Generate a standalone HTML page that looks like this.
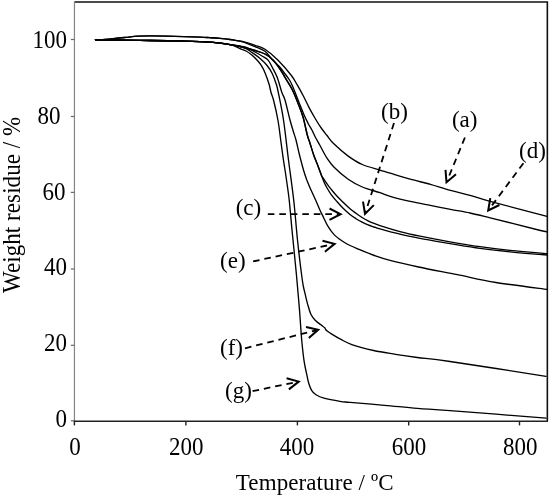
<!DOCTYPE html>
<html><head><meta charset="utf-8"><title>TGA curves</title><style>
html,body{margin:0;padding:0;background:#fff;}
svg{display:block;}
.t{font-family:"Liberation Serif","Times New Roman",serif;font-size:23px;fill:#000;}
.crv{fill:none;stroke:#000;stroke-width:1.35;stroke-linejoin:round;stroke-linecap:round;}
.dash{stroke:#000;stroke-width:1.8;stroke-dasharray:6.6 4.9;fill:none;}
.head{fill:none;stroke:#000;stroke-width:2;stroke-linejoin:miter;stroke-linecap:butt;}
</style></head>
<body>
<svg width="550" height="497" viewBox="0 0 550 497">
<rect width="550" height="497" fill="#fff"/>
<path d="M74.5,2 L547.35,2 L547.35,421" fill="none" stroke="#111" stroke-width="1.6"/>
<line x1="74.45" y1="1.5" x2="74.45" y2="421" stroke="#858585" stroke-width="1.2"/>
<line x1="73.8" y1="421.2" x2="548" y2="421.2" stroke="#222" stroke-width="1.6"/>
<line x1="70.8" y1="39.5" x2="74.4" y2="39.5" stroke="#6a6a6a" stroke-width="1.2"/>
<line x1="70.8" y1="116.5" x2="74.4" y2="116.5" stroke="#6a6a6a" stroke-width="1.2"/>
<line x1="70.8" y1="192.4" x2="74.4" y2="192.4" stroke="#6a6a6a" stroke-width="1.2"/>
<line x1="70.8" y1="269" x2="74.4" y2="269" stroke="#6a6a6a" stroke-width="1.2"/>
<line x1="70.8" y1="345.3" x2="74.4" y2="345.3" stroke="#6a6a6a" stroke-width="1.2"/>
<line x1="70.8" y1="420.8" x2="74.4" y2="420.8" stroke="#6a6a6a" stroke-width="1.2"/>
<line x1="74.4" y1="420.9" x2="74.4" y2="425.4" stroke="#222" stroke-width="1.4"/>
<line x1="185.9" y1="420.9" x2="185.9" y2="425.4" stroke="#222" stroke-width="1.4"/>
<line x1="297.4" y1="420.9" x2="297.4" y2="425.4" stroke="#222" stroke-width="1.4"/>
<line x1="408.7" y1="420.9" x2="408.7" y2="425.4" stroke="#222" stroke-width="1.4"/>
<line x1="519.5" y1="420.9" x2="519.5" y2="425.4" stroke="#222" stroke-width="1.4"/>
<path d="M95.5,39.8 C97.1,39.7 101.8,39.5 105.0,39.3 C108.2,39.1 111.5,38.8 115.0,38.5 C118.5,38.2 122.2,37.8 126.0,37.4 C129.8,37.0 134.0,36.5 138.0,36.2 C142.0,36.0 143.8,35.9 150.0,35.9 C156.2,35.9 166.7,36.1 175.0,36.3 C183.3,36.5 194.2,36.9 200.0,37.1 C205.8,37.3 206.7,37.5 210.0,37.7 C213.3,37.9 216.7,38.1 220.0,38.4 C223.3,38.7 227.0,39.1 230.0,39.5 C233.0,39.9 235.5,40.4 238.0,40.8 C240.5,41.2 242.2,41.4 245.0,42.1 C247.8,42.9 251.7,44.1 255.0,45.3 C258.3,46.5 261.2,46.8 265.0,49.3 C268.8,51.8 273.5,55.7 277.8,60.0 C282.1,64.3 287.8,70.9 291.0,75.0 C294.2,79.1 295.1,81.3 297.1,84.7 C299.1,88.1 301.1,91.7 303.1,95.5 C305.1,99.3 307.1,103.8 309.1,107.6 C311.1,111.4 313.2,115.1 315.2,118.5 C317.2,121.9 319.2,125.2 321.2,128.0 C323.2,130.8 324.9,132.8 327.0,135.5 C329.1,138.2 330.6,140.7 334.1,144.1 C337.6,147.5 343.5,152.7 348.2,156.1 C352.9,159.5 357.0,162.2 362.3,164.5 C367.6,166.8 375.4,168.7 380.0,170.1 C384.6,171.5 385.1,171.7 390.1,173.2 C395.1,174.7 403.5,177.3 410.2,179.2 C416.9,181.0 423.7,182.5 430.4,184.3 C437.1,186.2 443.9,188.5 450.5,190.3 C457.1,192.1 463.4,193.5 470.0,195.3 C476.6,197.2 477.4,197.9 490.2,201.4 C503.0,204.9 537.5,213.8 547.0,216.3" class="crv"/>
<path d="M95.5,39.8 C97.1,39.7 101.8,39.5 105.0,39.3 C108.2,39.1 111.5,38.8 115.0,38.5 C118.5,38.2 122.2,37.8 126.0,37.4 C129.8,37.0 134.0,36.5 138.0,36.2 C142.0,36.0 143.8,35.9 150.0,35.9 C156.2,35.9 166.7,36.1 175.0,36.3 C183.3,36.5 194.2,36.9 200.0,37.1 C205.8,37.3 206.7,37.5 210.0,37.7 C213.3,37.9 216.7,38.1 220.0,38.4 C223.3,38.7 227.0,39.1 230.0,39.5 C233.0,39.9 235.5,40.3 238.0,40.8 C240.5,41.3 242.2,41.6 245.0,42.6 C247.8,43.6 251.7,45.2 255.0,46.6 C258.3,48.0 262.1,49.1 265.0,51.3 C267.9,53.5 269.8,57.1 272.1,59.6 C274.5,62.1 277.1,64.1 279.1,66.3 C281.1,68.5 282.3,70.2 284.0,72.5 C285.7,74.8 288.1,77.7 289.5,80.0 C290.9,82.3 291.5,83.8 292.7,86.5 C293.9,89.2 295.4,93.1 296.5,96.0 C297.6,98.9 298.7,101.7 299.6,104.0 C300.5,106.3 301.2,107.8 302.1,110.0 C303.0,112.2 304.0,114.8 305.0,117.0 C306.0,119.2 307.1,121.3 308.2,123.5 C309.3,125.7 310.7,127.7 311.9,130.0 C313.1,132.3 314.1,134.9 315.5,137.5 C316.9,140.1 318.1,142.1 320.0,145.5 C321.9,148.9 324.6,154.6 327.0,158.2 C329.4,161.8 330.6,163.8 334.1,167.3 C337.6,170.8 343.5,176.0 348.2,179.3 C352.9,182.6 357.0,184.8 362.3,187.0 C367.6,189.2 375.4,191.1 380.0,192.7 C384.6,194.2 385.1,194.9 390.1,196.3 C395.1,197.8 403.5,199.9 410.2,201.4 C416.9,202.9 423.7,204.1 430.4,205.4 C437.1,206.7 443.9,208.1 450.5,209.4 C457.1,210.7 463.4,211.6 470.0,213.0 C476.6,214.4 478.8,215.0 490.2,217.8 C501.6,220.6 529.0,227.7 538.5,230.0 C548.0,232.3 545.6,231.5 547.0,231.8" class="crv"/>
<path d="M95.5,39.8 C99.6,39.8 110.9,40.0 120.0,40.1 C129.1,40.2 140.0,40.4 150.0,40.5 C160.0,40.6 170.0,40.7 180.0,41.0 C190.0,41.3 201.7,41.6 210.0,42.2 C218.3,42.8 225.0,43.9 230.0,44.6 C235.0,45.3 235.8,45.5 240.0,46.5 C244.2,47.5 250.8,49.2 255.0,50.5 C259.2,51.8 262.0,52.4 265.0,54.0 C268.0,55.6 270.5,57.5 273.0,60.0 C275.5,62.5 278.0,66.1 280.0,69.0 C282.0,71.9 283.0,74.0 285.0,77.4 C287.0,80.8 290.0,85.1 292.2,89.5 C294.4,93.9 296.5,99.4 298.3,104.0 C300.1,108.6 301.6,112.1 303.1,117.3 C304.6,122.5 306.2,130.9 307.3,135.0 C308.4,139.1 308.5,138.7 309.6,142.0 C310.7,145.3 312.3,151.0 313.7,155.0 C315.1,159.0 316.7,162.6 318.0,166.0 C319.3,169.4 320.6,173.4 321.5,175.5 C322.4,177.6 322.8,177.5 323.5,178.6 C324.2,179.7 324.8,180.6 326.0,182.3 C327.2,184.1 329.1,186.8 331.0,189.1 C332.9,191.4 335.1,194.1 337.1,196.3 C339.1,198.5 341.0,200.2 343.1,202.3 C345.2,204.4 347.9,206.9 350.0,208.7 C352.1,210.5 354.0,211.8 356.0,213.3 C358.0,214.8 360.1,216.2 362.1,217.5 C364.1,218.8 366.1,219.8 368.1,220.8 C370.1,221.8 372.1,222.6 374.1,223.4 C376.1,224.2 375.7,224.2 380.0,225.6 C384.3,227.0 393.3,229.8 400.0,231.6 C406.7,233.4 411.7,234.5 420.0,236.2 C428.3,237.9 440.0,240.1 450.0,241.8 C460.0,243.6 470.0,245.3 480.0,246.7 C490.0,248.1 498.8,249.2 510.0,250.4 C521.2,251.6 540.8,253.1 547.0,253.6" class="crv"/>
<path d="M95.5,39.8 C99.6,39.8 110.9,40.0 120.0,40.1 C129.1,40.2 140.0,40.4 150.0,40.5 C160.0,40.6 170.0,40.7 180.0,41.0 C190.0,41.3 201.7,41.6 210.0,42.2 C218.3,42.8 225.0,43.9 230.0,44.6 C235.0,45.3 235.8,45.5 240.0,46.5 C244.2,47.5 250.8,49.2 255.0,50.5 C259.2,51.8 262.0,52.4 265.0,54.0 C268.0,55.6 270.5,57.5 273.0,60.0 C275.5,62.5 278.0,66.1 280.0,69.0 C282.0,71.9 283.0,74.0 285.0,77.4 C287.0,80.8 290.0,85.1 292.2,89.5 C294.4,93.9 296.5,99.4 298.3,104.0 C300.1,108.6 301.6,112.1 303.1,117.3 C304.6,122.5 306.2,130.9 307.3,135.0 C308.4,139.1 308.5,138.7 309.6,142.0 C310.7,145.3 312.3,151.0 313.7,155.0 C315.1,159.0 316.7,162.6 318.0,166.0 C319.3,169.4 320.5,172.9 321.5,175.5 C322.5,178.1 323.0,179.6 323.8,181.5 C324.6,183.4 325.3,184.9 326.5,187.0 C327.7,189.1 329.2,191.9 331.0,194.3 C332.8,196.8 335.1,199.4 337.1,201.7 C339.1,204.0 341.0,206.1 343.1,208.2 C345.2,210.3 347.9,212.7 350.0,214.4 C352.1,216.2 354.0,217.4 356.0,218.7 C358.0,220.0 360.1,221.2 362.1,222.2 C364.1,223.2 366.1,224.1 368.1,224.9 C370.1,225.7 372.1,226.3 374.1,227.0 C376.1,227.7 375.7,227.7 380.0,228.9 C384.3,230.1 393.3,232.6 400.0,234.2 C406.7,235.8 411.7,236.8 420.0,238.4 C428.3,240.0 440.0,241.9 450.0,243.6 C460.0,245.2 470.0,246.9 480.0,248.3 C490.0,249.7 498.8,250.7 510.0,251.8 C521.2,252.9 540.8,254.5 547.0,255.0" class="crv"/>
<path d="M95.5,39.8 C99.6,39.8 110.9,40.0 120.0,40.1 C129.1,40.2 140.0,40.4 150.0,40.5 C160.0,40.6 170.0,40.7 180.0,41.0 C190.0,41.3 201.7,41.6 210.0,42.2 C218.3,42.8 224.2,43.8 230.0,44.6 C235.8,45.4 240.8,45.8 245.0,47.0 C249.2,48.2 252.2,50.5 255.0,52.0 C257.8,53.5 259.8,54.6 262.0,56.0 C264.2,57.4 266.4,58.2 268.1,60.1 C269.8,62.0 270.7,64.4 272.2,67.2 C273.7,70.0 275.6,73.1 277.2,77.2 C278.8,81.3 280.4,88.2 281.7,92.0 C283.0,95.8 283.6,95.3 285.0,100.0 C286.4,104.7 288.6,114.7 290.0,120.0 C291.4,125.3 292.5,128.7 293.5,132.0 C294.5,135.3 295.0,136.2 296.0,140.0 C297.0,143.8 298.2,150.0 299.5,155.0 C300.8,160.0 302.3,165.8 303.5,170.0 C304.7,174.2 305.6,176.7 306.8,180.0 C308.1,183.3 309.5,186.7 311.0,190.0 C312.5,193.3 314.1,196.7 315.6,200.0 C317.1,203.3 318.7,207.3 319.9,210.0 C321.1,212.7 321.6,213.5 322.9,216.1 C324.2,218.7 325.8,222.7 327.7,225.8 C329.6,228.9 331.7,232.1 334.1,234.6 C336.5,237.1 339.6,239.2 342.2,241.0 C344.8,242.8 347.3,244.2 350.0,245.5 C352.7,246.8 354.2,247.4 358.3,249.1 C362.4,250.8 369.1,253.6 374.4,255.5 C379.7,257.4 382.6,258.5 390.0,260.4 C397.4,262.3 407.4,264.6 418.6,267.0 C429.8,269.4 444.4,272.1 457.3,274.7 C470.2,277.3 480.9,280.1 495.9,282.5 C510.8,284.9 538.5,288.2 547.0,289.3" class="crv"/>
<path d="M95.5,39.8 C99.6,39.8 110.9,40.0 120.0,40.1 C129.1,40.2 140.0,40.4 150.0,40.5 C160.0,40.6 170.0,40.7 180.0,41.0 C190.0,41.3 201.7,41.6 210.0,42.2 C218.3,42.8 224.2,43.6 230.0,44.6 C235.8,45.6 241.3,46.7 245.0,48.0 C248.7,49.3 249.5,50.8 252.0,52.5 C254.5,54.2 257.6,56.3 260.1,58.5 C262.6,60.7 265.1,63.0 267.1,65.5 C269.1,68.0 270.7,70.4 272.2,73.5 C273.7,76.6 275.2,80.9 276.2,84.0 C277.2,87.1 277.0,86.0 278.2,92.0 C279.4,98.0 281.8,108.7 283.5,120.0 C285.2,131.3 286.8,146.7 288.5,160.0 C290.2,173.3 292.2,186.7 293.7,200.0 C295.2,213.3 296.1,226.7 297.5,240.0 C298.9,253.3 301.1,271.3 302.3,280.0 C303.5,288.7 303.8,288.1 304.7,292.1 C305.6,296.1 306.6,300.4 307.6,304.1 C308.7,307.8 309.7,311.8 311.0,314.5 C312.3,317.2 313.9,318.8 315.5,320.5 C317.1,322.2 319.4,323.6 320.9,324.8 C322.4,326.0 323.8,327.0 324.6,327.7 C325.4,328.4 325.1,328.7 325.5,329.2 C325.9,329.7 325.6,329.8 326.7,330.6 C327.8,331.4 329.5,332.7 331.8,334.1 C334.1,335.5 337.2,337.4 340.5,339.2 C343.8,340.9 346.3,342.7 351.8,344.6 C357.3,346.5 366.3,348.9 373.6,350.5 C380.9,352.1 388.2,353.1 395.5,354.3 C402.8,355.5 408.2,356.3 417.3,357.5 C426.4,358.7 428.6,358.4 450.0,361.5 C471.4,364.6 530.0,373.8 546.0,376.3" class="crv"/>
<path d="M95.5,39.8 C99.6,39.8 110.9,40.0 120.0,40.1 C129.1,40.2 140.0,40.4 150.0,40.5 C160.0,40.6 170.0,40.7 180.0,41.0 C190.0,41.3 201.7,41.6 210.0,42.2 C218.3,42.8 225.0,43.5 230.0,44.6 C235.0,45.7 237.3,47.5 240.0,48.6 C242.7,49.7 244.0,49.9 246.0,51.0 C248.0,52.1 250.1,53.6 252.1,55.3 C254.1,57.0 256.5,59.5 258.1,61.3 C259.7,63.1 260.5,64.1 261.7,66.1 C262.9,68.1 264.1,70.4 265.3,73.4 C266.5,76.4 268.2,81.2 269.1,84.3 C270.0,87.4 270.2,89.4 270.9,92.0 C271.6,94.6 272.3,95.3 273.5,100.0 C274.7,104.7 276.7,113.3 277.9,120.0 C279.1,126.7 279.8,133.3 280.7,140.0 C281.6,146.7 282.5,153.6 283.5,160.3 C284.5,167.0 285.6,173.4 286.5,180.0 C287.4,186.6 288.3,191.7 289.2,200.0 C290.1,208.3 291.1,220.8 292.0,230.0 C292.9,239.2 293.7,246.7 294.5,255.0 C295.3,263.3 296.1,270.8 296.9,280.0 C297.7,289.2 298.7,300.0 299.5,310.0 C300.3,320.0 300.9,331.5 301.7,340.0 C302.5,348.5 303.2,355.2 304.1,361.1 C305.0,367.0 306.1,371.5 306.9,375.2 C307.7,378.9 308.0,381.0 308.8,383.5 C309.6,386.0 310.4,388.4 311.6,390.3 C312.8,392.2 313.9,393.5 316.0,394.8 C318.1,396.1 320.0,397.1 324.0,398.2 C328.0,399.3 335.7,400.7 340.0,401.4 C344.3,402.1 342.6,401.8 350.0,402.4 C357.4,403.0 373.3,404.3 384.5,405.3 C395.7,406.3 406.4,407.5 417.3,408.4 C428.2,409.3 428.6,409.0 450.0,410.6 C471.4,412.2 530.0,416.9 546.0,418.2" class="crv"/>
<line x1="464.9" y1="137.5" x2="447.3" y2="180.4" class="dash"/><polyline points="456.0,174.2 446.5,182.3 445.5,169.8" class="head"/>
<line x1="394.0" y1="123.0" x2="365.6" y2="212.1" class="dash"/><polyline points="373.8,205.1 365.0,214.0 363.0,201.7" class="head"/>
<line x1="267.8" y1="214.2" x2="338.6" y2="214.2" class="dash"/><polyline points="329.5,208.5 340.6,214.2 329.5,219.9" class="head"/>
<line x1="523.4" y1="163.2" x2="489.4" y2="208.9" class="dash"/><polyline points="499.4,205.0 488.2,210.5 490.3,198.2" class="head"/>
<line x1="253.1" y1="261.4" x2="332.6" y2="244.3" class="dash"/><polyline points="322.5,240.7 334.6,243.9 324.9,251.8" class="head"/>
<line x1="245.0" y1="348.3" x2="316.3" y2="330.3" class="dash"/><polyline points="306.0,327.0 318.2,329.8 308.8,338.0" class="head"/>
<line x1="252.6" y1="391.1" x2="296.7" y2="382.0" class="dash"/><polyline points="286.6,378.3 298.7,381.6 288.9,389.4" class="head"/>
<text transform="translate(66.9,48.0) scale(1,1.08)" text-anchor="end" class="t">100</text>
<text transform="translate(60.5,123.6) scale(1,1.08)" text-anchor="end" class="t">80</text>
<text transform="translate(65.5,199.5) scale(1,1.08)" text-anchor="end" class="t">60</text>
<text transform="translate(67.0,274.7) scale(1,1.08)" text-anchor="end" class="t">40</text>
<text transform="translate(67.0,350.7) scale(1,1.08)" text-anchor="end" class="t">20</text>
<text transform="translate(67.0,426.5) scale(1,1.08)" text-anchor="end" class="t">0</text>
<text transform="translate(75,454.6) scale(1,1.08)" text-anchor="middle" class="t">0</text>
<text transform="translate(186.2,454.6) scale(1,1.08)" text-anchor="middle" class="t">200</text>
<text transform="translate(297,454.6) scale(1,1.08)" text-anchor="middle" class="t">400</text>
<text transform="translate(409.1,454.6) scale(1,1.08)" text-anchor="middle" class="t">600</text>
<text transform="translate(520.3,454.6) scale(1,1.08)" text-anchor="middle" class="t">800</text>
<text x="235.8" y="490.4" textLength="157.7" lengthAdjust="spacing" class="t">Temperature / ºC</text>
<text transform="translate(20.3,293.0) rotate(-90) scale(1,1.05)" textLength="176.3" lengthAdjust="spacing" class="t">Weight residue / %</text>
<text x="451.9" y="127.3" class="t">(a)</text>
<text x="381" y="118.8" class="t">(b)</text>
<text x="235.7" y="214.6" class="t">(c)</text>
<text x="519" y="158.4" class="t">(d)</text>
<text x="220.1" y="268.1" class="t">(e)</text>
<text x="220" y="354.5" class="t">(f)</text>
<text x="225" y="397.7" class="t">(g)</text>
</svg>
</body></html>
